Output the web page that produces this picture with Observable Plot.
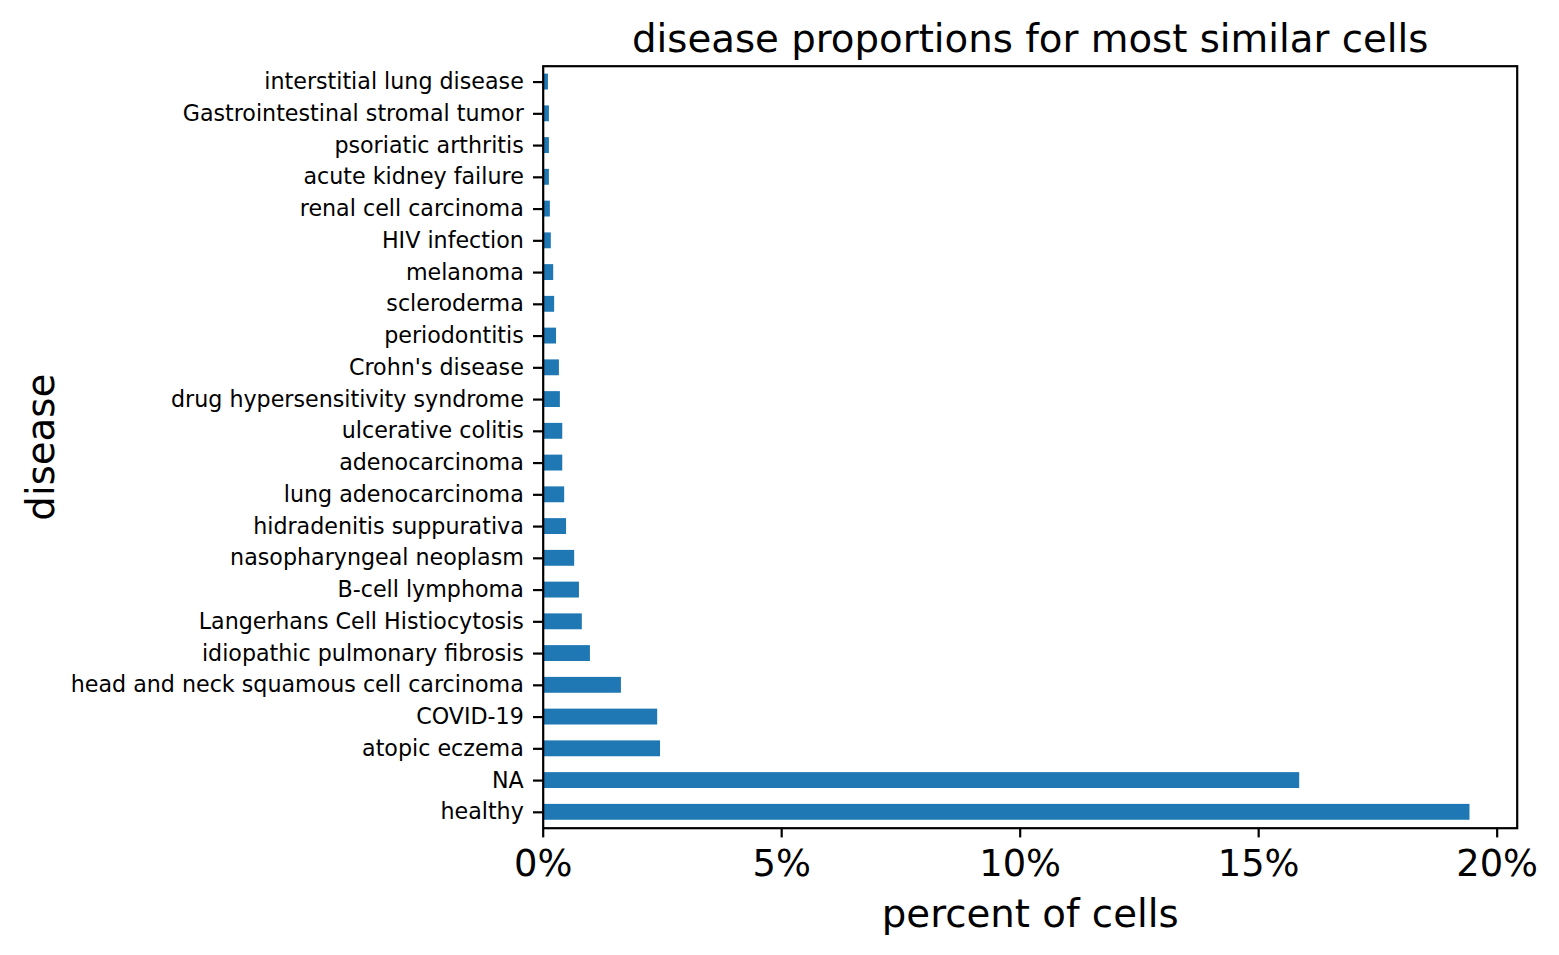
<!DOCTYPE html>
<html>
<head>
<meta charset="utf-8">
<script src="https://cdn.jsdelivr.net/npm/d3@7"></script>
<script src="https://cdn.jsdelivr.net/npm/@observablehq/plot@0.6"></script>
<style>
  html, body { margin: 0; padding: 0; background: #fff; }
  #chart svg { display: block; }
</style>
</head>
<body>
<div id="chart"></div>
<script>
// categories in matplotlib order (first = bottom bar)
const diseases = [
  "healthy", "NA", "atopic eczema", "COVID-19",
  "head and neck squamous cell carcinoma", "idiopathic pulmonary fibrosis",
  "Langerhans Cell Histiocytosis", "B-cell lymphoma", "nasopharyngeal neoplasm",
  "hidradenitis suppurativa", "lung adenocarcinoma", "adenocarcinoma",
  "ulcerative colitis", "drug hypersensitivity syndrome", "Crohn's disease",
  "periodontitis", "scleroderma", "melanoma", "HIV infection",
  "renal cell carcinoma", "acute kidney failure", "psoriatic arthritis",
  "Gastrointestinal stromal tumor", "interstitial lung disease"
];
// percent of cells
const percents = [
  19.43, 15.86, 2.46, 2.40,
  1.64, 0.99,
  0.82, 0.76, 0.66,
  0.49, 0.45, 0.41,
  0.41, 0.36, 0.34,
  0.28, 0.24, 0.22, 0.17,
  0.15, 0.13, 0.13,
  0.13, 0.11
];
const xTicks = [0, 5, 10, 15, 20];
const titleText = "disease proportions for most similar cells";
const xLabel = "percent of cells";
const yLabel = "disease";

const data = diseases.map((d, i) => ({disease: d, pct: percents[i]}));

const chart = Plot.plot({
  width: 1559,
  height: 955,
  marginTop: 65.7,
  marginRight: 42.3,
  marginBottom: 127.3,
  marginLeft: 542.7,
  style: {fontFamily: "'DejaVu Sans', sans-serif", color: "black", background: "white"},
  x: {domain: [0, 20.42], label: null},
  y: {domain: diseases.slice().reverse(), paddingInner: 0.5, paddingOuter: 0.25, round: false, label: null},
  marks: [
    Plot.barX(data, {x: "pct", y: "disease", fill: "#1f77b4"}),
    Plot.axisY({tickSize: 9.7, tickPadding: 9.7, fontSize: 22.2, strokeWidth: 2.2, label: null}),
    Plot.axisX({ticks: xTicks, tickFormat: d => d + "%", tickSize: 9.7, tickPadding: 12, fontSize: 36.8, strokeWidth: 2.2, label: null}),
    Plot.frame({stroke: "black", strokeWidth: 2.2}),
    Plot.text([titleText], {frameAnchor: "top", lineAnchor: "middle", textAnchor: "middle", dy: -26.5, fontSize: 38.7, fill: "black"}),
    Plot.text([xLabel], {frameAnchor: "bottom", lineAnchor: "middle", textAnchor: "middle", dy: 86.9, fontSize: 38.7, fill: "black"}),
    Plot.text([yLabel], {frameAnchor: "left", lineAnchor: "middle", textAnchor: "middle", rotate: -90, dx: -502, fontSize: 38.7, fill: "black"})
  ]
});
document.getElementById("chart").appendChild(chart);
</script>
</body>
</html>
